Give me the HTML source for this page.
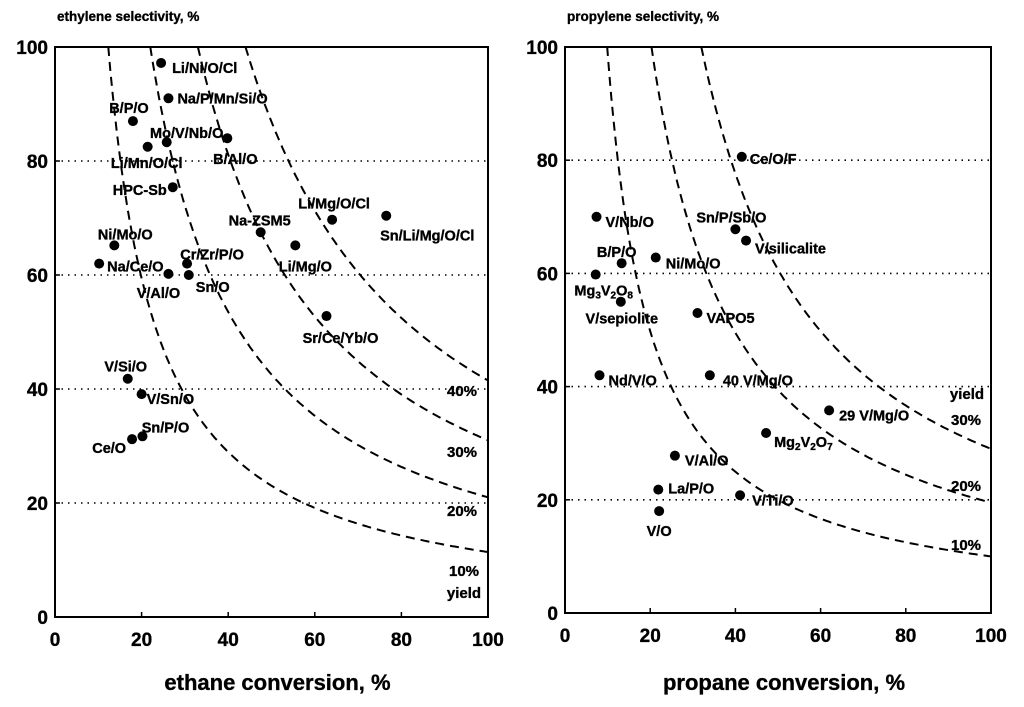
<!DOCTYPE html>
<html><head><meta charset="utf-8"><style>
body{margin:0;background:#fff;}
svg{display:block;font-family:"Liberation Sans",Arial,sans-serif;font-weight:bold;}
svg text{stroke:#000;stroke-width:0.35px;}
</style></head><body>
<svg id="chart" width="1024" height="707" viewBox="0 0 1024 707" xmlns="http://www.w3.org/2000/svg"></svg>
<script>
// Left panel data (ethane)
const leftNames=["Li/Ni/O/Cl","Na/P/Mn/Si/O","B/P/O","Mo/V/Nb/O","B/Al/O","Li/Mn/O/Cl","HPC-Sb","Li/Mg/O/Cl","Sn/Li/Mg/O/Cl","Na-ZSM5","Li/Mg/O","Ni/Mo/O","Na/Ce/O","Cr/Zr/P/O","V/Al/O","Sn/O","Sr/Ce/Yb/O","V/Si/O","V/Sn/O","Sn/P/O","Ce/O"];
const leftConv=[24.5,26.2,18,25.8,39.8,21.4,27.2,64,76.5,47.5,55.5,13.7,10.2,30.5,26.2,30.9,62.7,16.8,20,20.2,17.8];
const leftSel=[97.2,91,87,83.3,84,82.5,75.4,69.7,70.4,67.5,65.2,65.2,62,62,60.2,60,52.8,41.8,39.1,31.7,31.2];
const leftYields=[10,20,30,40];
const leftCurveStart=[12.3,22,33,44];
const leftCurveEnd=[11.4,21,31,41.5];
// Right panel data (propane)
const rightNames=["Ce/O/F","V/Nb/O","Sn/P/Sb/O","V/silicalite","B/P/O","Ni/Mo/O","Mg3V2O8","V/sepiolite","VAPO5","Nd/V/O","40 V/Mg/O","29 V/Mg/O","Mg2V2O7","V/Al/O","La/P/O","V/Ti/O","V/O"];
const rightConv=[41.5,7.4,40,42.5,13.3,21.3,7.2,13.1,31.1,8.1,34,62,47.2,25.8,21.9,41.1,22.1];
const rightSel=[80.6,70,67.8,65.8,61.8,62.8,59.8,55,53,42,42,35.8,31.8,27.8,21.8,20.8,18];
const rightYields=[10,20,30];
const rightCurveStart=[9.9,20.3,32];
const rightCurveEnd=[10,19.5,29];
const ticks=[0,20,40,60,80,100];

// label layout (anchor, dx, dy) - not data
const leftLay=[["start",11,5],["start",9,0],["middle",-4,-13],["middle",20,-9],["middle",8,21],["middle",-1,16],["end",-6,3],["middle",2,-16],["middle",41,20],["middle",-1,-12],["middle",10,21],["middle",11,-11],["start",8,3],["middle",25,-9],["middle",-10,19],["start",7,12],["middle",14,22],["middle",-2,-12],["start",5,5],["middle",23,-9],["end",-6,9]];
const rightLay=[["start",8,2],["start",9,5],["middle",-4,-12],["start",9,8],["middle",-5,-11],["start",10,6],["middle",8,16],["middle",1,17],["start",9,5],["start",9,5],["start",13,5],["start",10,5],["start",8,9],["start",10,5],["start",10,-1],["start",12,5],["middle",0,20]];

const svg=document.getElementById('chart');
const NS="http://www.w3.org/2000/svg";
function mk(tag,attrs,parent){const e=document.createElementNS(NS,tag);for(const k in attrs)e.setAttribute(k,attrs[k]);(parent||svg).appendChild(e);return e;}

function panel(p){
  const g=mk('g',{});
  
  
  const sx=v=>p.x0+v*(p.x1-p.x0)/100, sy=v=>p.y0-v*(p.y0-p.y1)/100;
  [20,40,60,80].forEach(t=>{
    const l=mk('line',{x1:sx(0),x2:sx(100),y1:sy(t),y2:sy(t),stroke:'#000','stroke-width':1.6,'stroke-dasharray':'1.5 5'},g);
    
    
  });
  const fr=mk('rect',{x:sx(0),y:sy(100),width:sx(100)-sx(0),height:sy(0)-sy(100),fill:'none',stroke:'#000','stroke-width':2},g);
  
  
  ticks.forEach(t=>{
    mk('line',{x1:sx(t),x2:sx(t),y1:sy(0),y2:sy(0)-5,stroke:'#000','stroke-width':1.5},g);
    mk('line',{x1:sx(0),x2:sx(0)+5,y1:sy(t),y2:sy(t),stroke:'#000','stroke-width':1.5},g);
    const tx=mk('text',{x:sx(t),y:sy(0)+29,'text-anchor':'middle','font-size':19},g);tx.textContent=t;
    
    
    const ty=mk('text',{x:sx(0)-7,y:sy(t)+7,'text-anchor':'end','font-size':19},g);ty.textContent=t;
    
    
  });
  p.yields.forEach((y,i)=>{
    const xs=p.cs[i], se=p.ce[i];
    const c=(100*xs-se*100)/(100-se), A=100*(xs-c);
    let d='';
    for(let X=xs;X<=100.01;X+=0.5){const S=A/(X-c);d+=(d?'L':'M')+sx(X).toFixed(1)+','+sy(Math.min(S,100)).toFixed(1);}
    const pa=mk('path',{d:d,fill:'none',stroke:'#000','stroke-width':2,'stroke-dasharray':'9 6'},g);
    
    
  });
  p.curveLabels.forEach(cl=>{
    const t=mk('text',{x:cl[1],y:cl[2],'text-anchor':'middle','font-size':15},g);t.textContent=cl[0];
    
    
  });
  p.names.forEach((n,i)=>{
    const cx=sx(p.conv[i]),cy=sy(p.sel[i]);
    const dot=mk('circle',{cx:cx,cy:cy,r:5,fill:'#000'},g);
    
    
    const L=p.lay[i];
    const t=mk('text',{x:cx+L[1],y:cy+L[2]+5,'text-anchor':L[0],'font-size':14.5},g);
    const m=n.match(/^Mg([23])V2O([78])$/);
    if(m){
      t.appendChild(document.createTextNode('Mg'));
      mk('tspan',{'font-size':10,dy:3},t).textContent=m[1];
      mk('tspan',{dy:-3},t).textContent='V';
      mk('tspan',{'font-size':10,dy:3},t).textContent='2';
      mk('tspan',{dy:-3},t).textContent='O';
      mk('tspan',{'font-size':10,dy:3},t).textContent=m[2];
    } else t.textContent=n;
    
    
  });
  const yt=mk('text',{x:p.x0+2,y:21,'font-size':13.5},g);yt.textContent=p.ytitle;
  
  
  const xt=mk('text',{x:(p.x0+p.x1)/2+6,y:690,'text-anchor':'middle','font-size':22},g);xt.textContent=p.xtitle;
  
  
}
panel({id:'ethane',x0:55,x1:488,y0:617,y1:47,names:leftNames,conv:leftConv,sel:leftSel,lay:leftLay,yields:leftYields,cs:leftCurveStart,ce:leftCurveEnd,
  curveLabels:[["40%",462,396],["30%",462,457],["20%",462,516],["10%",464,576],["yield",464,598]],
  ytitle:"ethylene selectivity, %",xtitle:"ethane conversion, %"});
panel({id:'propane',x0:565,x1:991,y0:613,y1:47,names:rightNames,conv:rightConv,sel:rightSel,lay:rightLay,yields:rightYields,cs:rightCurveStart,ce:rightCurveEnd,
  curveLabels:[["yield",967,399],["30%",966,425],["20%",966,491],["10%",966,550]],
  ytitle:"propylene selectivity, %",xtitle:"propane conversion, %"});
</script>
</body></html>
